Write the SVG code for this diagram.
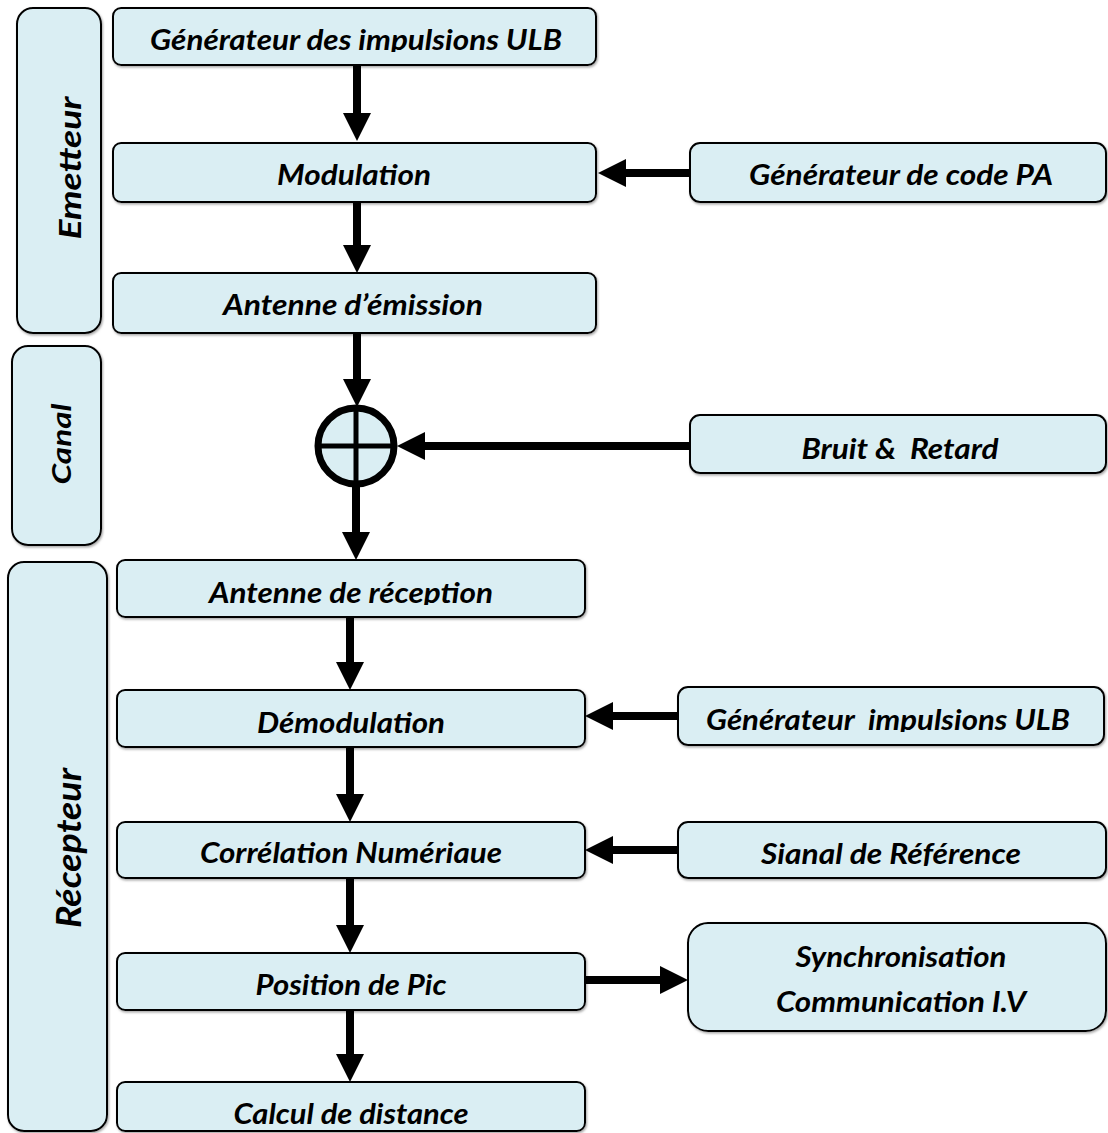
<svg xmlns="http://www.w3.org/2000/svg" width="1108" height="1133" viewBox="0 0 1108 1133">
  <style>
    .box { fill: #DAEEF3; stroke: #000; stroke-width: 2; filter: url(#shade); }
    .lbl { font-family: Lato, "Open Sans", "Liberation Sans", sans-serif; font-weight: bold; font-style: italic; font-size: 29px; fill: #000; text-anchor: middle; }
    .side { font-family: Lato, "Open Sans", "Liberation Sans", sans-serif; font-weight: bold; font-style: italic; fill: #000; text-anchor: middle; }
    .flow { stroke: #000; stroke-width: 8; fill: none; marker-end: url(#head); }
  </style>
  <defs>
    <filter id="shade" x="-5%" y="-5%" width="110%" height="120%">
      <feDropShadow dx="1" dy="1.5" stdDeviation="0.8" flood-color="#808080" flood-opacity="0.7"/>
    </filter>
    <marker id="head" markerUnits="userSpaceOnUse" markerWidth="28" markerHeight="28" refX="0" refY="14" orient="auto">
      <path d="M0,0 L28,14 L0,28 Z" fill="#000"/>
    </marker>
    <!-- text frames cut the labels just below their baselines -->
    <clipPath id="c-gen"><rect x="113" y="8" width="483" height="44"/></clipPath>
    <clipPath id="c-rec"><rect x="117" y="560" width="468" height="45"/></clipPath>
    <clipPath id="c-gimp"><rect x="678" y="687" width="428" height="45"/></clipPath>
    <clipPath id="c-cor"><rect x="117" y="822" width="468" height="44"/></clipPath>
    <clipPath id="c-sig"><rect x="678" y="822" width="428" height="44"/></clipPath>
    <clipPath id="c-pos"><rect x="117" y="953" width="468" height="44"/></clipPath>
  </defs>

  <!-- section frames -->
  <g id="emetteur">
    <rect class="box" x="17" y="8" width="84" height="325" rx="16"/>
    <text class="side" font-size="31" transform="translate(81,168) rotate(-90)" textLength="143" lengthAdjust="spacingAndGlyphs">Emetteur</text>
  </g>
  <g id="canal">
    <rect class="box" x="12" y="346" width="89" height="199" rx="16"/>
    <text class="side" font-size="26" transform="translate(71,444) rotate(-90)" textLength="81" lengthAdjust="spacingAndGlyphs">Canal</text>
  </g>
  <g id="recepteur">
    <rect class="box" x="8" y="562" width="99" height="569" rx="16"/>
    <text class="side" font-size="35" transform="translate(81,848) rotate(-90)" textLength="160" lengthAdjust="spacingAndGlyphs">Récepteur</text>
  </g>

  <!-- transmitter chain -->
  <g id="generateur-ulb">
    <rect class="box" x="113" y="8" width="483" height="57" rx="8"/>
    <text class="lbl" x="356" y="50" clip-path="url(#c-gen)" textLength="412" lengthAdjust="spacingAndGlyphs">Générateur des impulsions ULB</text>
  </g>
  <g id="modulation">
    <rect class="box" x="113" y="143" width="483" height="59" rx="8"/>
    <text class="lbl" x="354" y="185" textLength="154" lengthAdjust="spacingAndGlyphs">Modulation</text>
  </g>
  <g id="antenne-emission">
    <rect class="box" x="113" y="273" width="483" height="60" rx="8"/>
    <text class="lbl" x="353" y="315" textLength="260" lengthAdjust="spacingAndGlyphs">Antenne d’émission</text>
  </g>
  <g id="code-pa">
    <rect class="box" x="690" y="143" width="416" height="59" rx="10"/>
    <text class="lbl" x="901" y="185" textLength="304" lengthAdjust="spacingAndGlyphs">Générateur de code PA</text>
  </g>

  <!-- channel -->
  <g id="sommateur">
    <circle cx="356" cy="446" r="38" fill="#DAEEF3" stroke="#000" stroke-width="7"/>
    <line x1="318" y1="446" x2="394" y2="446" stroke="#000" stroke-width="5"/>
    <line x1="356" y1="408" x2="356" y2="484" stroke="#000" stroke-width="5"/>
  </g>
  <g id="bruit-retard">
    <rect class="box" x="690" y="415" width="416" height="58" rx="10"/>
    <text class="lbl" x="900" y="459" textLength="197" lengthAdjust="spacingAndGlyphs" xml:space="preserve">Bruit &amp;  Retard</text>
  </g>

  <!-- receiver chain -->
  <g id="antenne-reception">
    <rect class="box" x="117" y="560" width="468" height="57" rx="8"/>
    <text class="lbl" x="351" y="603" clip-path="url(#c-rec)" textLength="284" lengthAdjust="spacingAndGlyphs">Antenne de réception</text>
  </g>
  <g id="demodulation">
    <rect class="box" x="117" y="690" width="468" height="57" rx="8"/>
    <text class="lbl" x="351" y="733" textLength="188" lengthAdjust="spacingAndGlyphs">Démodulation</text>
  </g>
  <g id="generateur-impulsions">
    <rect class="box" x="678" y="687" width="426" height="58" rx="10"/>
    <text class="lbl" x="888" y="730" clip-path="url(#c-gimp)" textLength="364" lengthAdjust="spacingAndGlyphs" xml:space="preserve">Générateur  impulsions ULB</text>
  </g>
  <g id="correlation">
    <rect class="box" x="117" y="822" width="468" height="56" rx="8"/>
    <text class="lbl" x="351" y="863" clip-path="url(#c-cor)" textLength="302" lengthAdjust="spacingAndGlyphs">Corrélation Numériaue</text>
  </g>
  <g id="signal-reference">
    <rect class="box" x="678" y="822" width="428" height="56" rx="10"/>
    <text class="lbl" x="891" y="864" clip-path="url(#c-sig)" textLength="260" lengthAdjust="spacingAndGlyphs">Sianal de Référence</text>
  </g>
  <g id="position-pic">
    <rect class="box" x="117" y="953" width="468" height="57" rx="8"/>
    <text class="lbl" x="351" y="995" clip-path="url(#c-pos)" textLength="191" lengthAdjust="spacingAndGlyphs">Position de Pic</text>
  </g>
  <g id="synchronisation">
    <rect class="box" x="688" y="923" width="418" height="108" rx="20"/>
    <text class="lbl" x="901" y="967" textLength="211" lengthAdjust="spacingAndGlyphs">Synchronisation</text>
    <text class="lbl" x="901" y="1012" textLength="250" lengthAdjust="spacingAndGlyphs">Communication I.V</text>
  </g>
  <g id="calcul-distance">
    <rect class="box" x="117" y="1082" width="468" height="49" rx="8"/>
    <text class="lbl" x="351" y="1124" textLength="235" lengthAdjust="spacingAndGlyphs">Calcul de distance</text>
  </g>

  <!-- connectors -->
  <g id="connectors">
    <line class="flow" x1="357" y1="65" x2="357" y2="113"/>
    <line class="flow" x1="357" y1="202" x2="357" y2="245"/>
    <line class="flow" x1="690" y1="173" x2="626" y2="173"/>
    <line class="flow" x1="357" y1="333" x2="357" y2="379"/>
    <line class="flow" x1="690" y1="446" x2="425" y2="446"/>
    <line class="flow" x1="356" y1="487" x2="356" y2="532"/>
    <line class="flow" x1="350" y1="617" x2="350" y2="662"/>
    <line class="flow" x1="678" y1="716" x2="613" y2="716"/>
    <line class="flow" x1="350" y1="747" x2="350" y2="794"/>
    <line class="flow" x1="678" y1="850" x2="613" y2="850"/>
    <line class="flow" x1="350" y1="878" x2="350" y2="925"/>
    <line class="flow" x1="585" y1="980" x2="660" y2="980"/>
    <line class="flow" x1="350" y1="1010" x2="350" y2="1054"/>
  </g>
</svg>
